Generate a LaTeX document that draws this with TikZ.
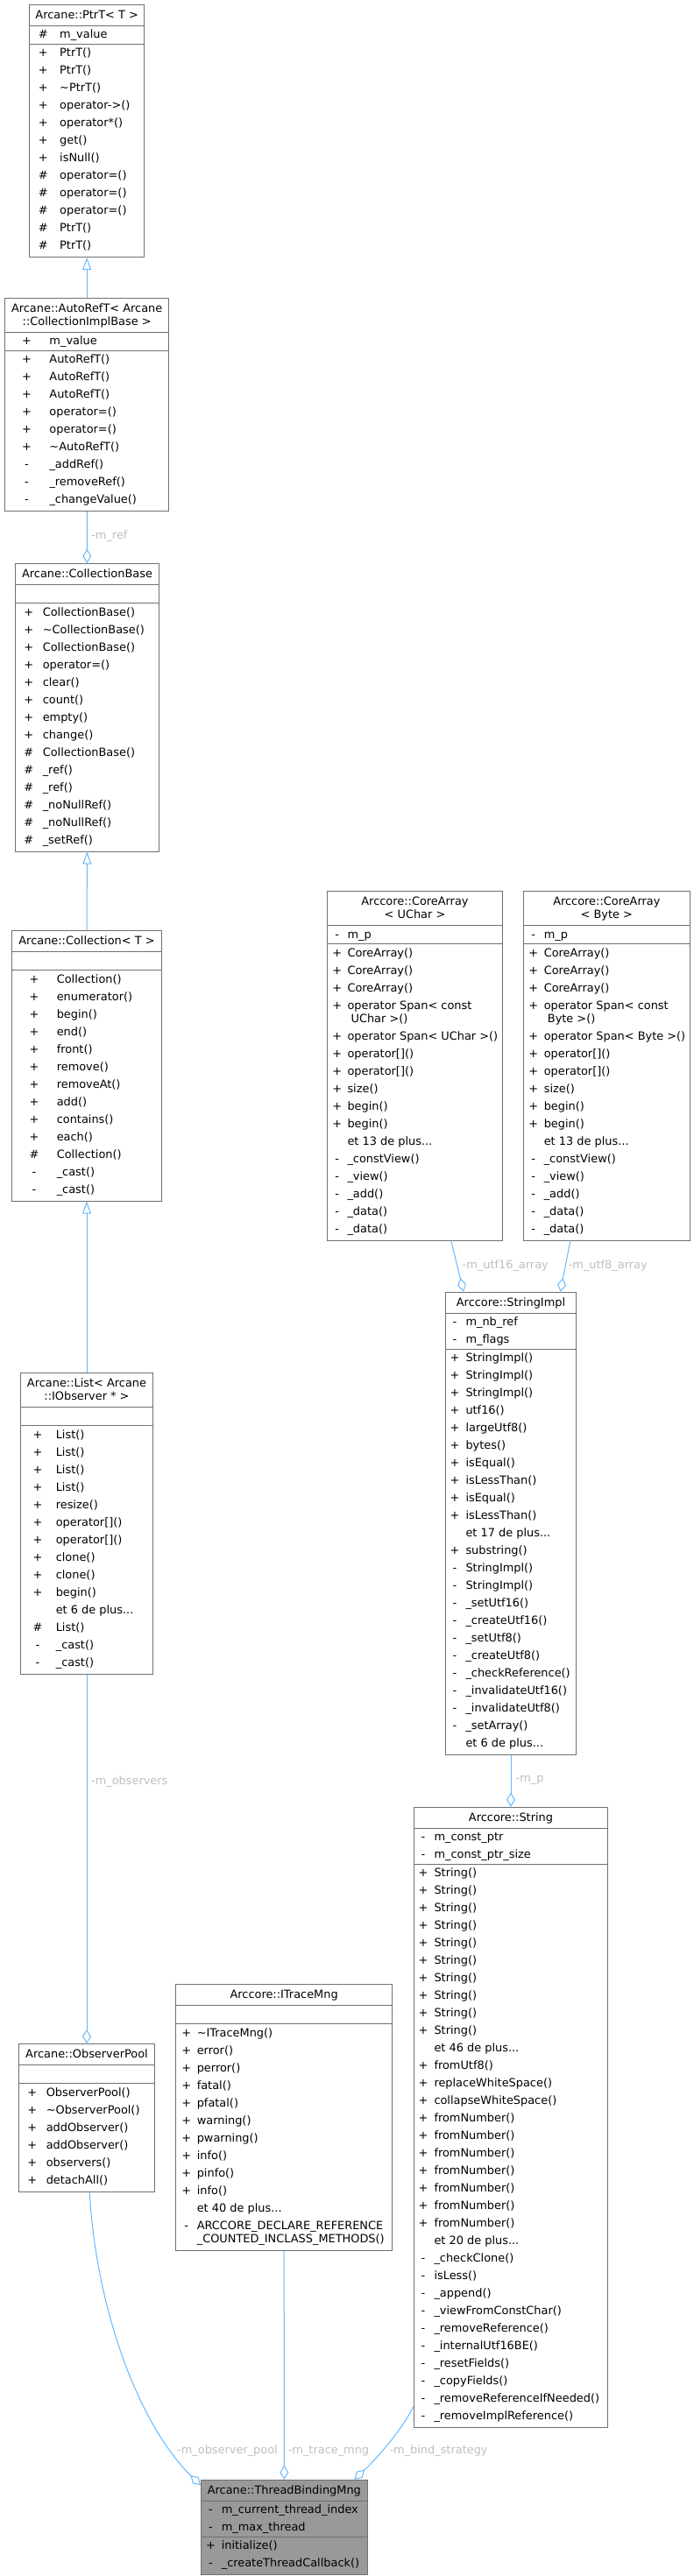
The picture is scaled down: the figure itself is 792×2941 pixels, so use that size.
\documentclass[tikz,border=0pt]{standalone}
\usepackage{fontspec}
\setmainfont{DejaVu Sans}
\usepackage{tikz}
\usetikzlibrary{shapes.multipart, arrows.meta, positioning}
\usepackage{color}

\definecolor{edgeblue}{HTML}{63B8FF}
\definecolor{lblgray}{HTML}{BEBEBE}
\definecolor{boxgray}{HTML}{707070}
\definecolor{tbmgray}{HTML}{999999}

\renewcommand{\arraystretch}{1.3333}
\newcommand{\dvs}{\fontsize{12.9}{15}\selectfont}
\newcommand{\symx}{12pt}
\newcommand{\namex}{12pt}
\newcommand{\mm}[2]{\hspace*{\symx}\makebox[0pt]{#1}\hspace*{\namex}#2}
\newcommand{\pub}[1]{\mm{+}{#1}}
\newcommand{\pro}[1]{\mm{\#}{#1}}
\newcommand{\pri}[1]{\mm{-}{#1}}
\newcommand{\etc}[1]{\mm{}{#1}}
\newcommand{\ttl}[1]{\dvs\begin{tabular}{@{}c@{}}\noalign{\vskip1.5pt}#1\\[1.5pt]\end{tabular}}
\newcommand{\nofld}{\dvs\begin{tabular}{@{}l@{}}\mbox{}\end{tabular}}
\newenvironment{flds}{\dvs\begin{tabular}{@{}l@{}}}{\end{tabular}}
\newenvironment{rows}{\dvs\begin{tabular}{@{}l@{}}}{\\[2.5pt]\end{tabular}}

\begin{document}
\begin{tikzpicture}[x=1pt, y=-1pt]
\useasboundingbox (0,0) rectangle (792,2941);

\begin{scope}[every node/.style={rectangle split, rectangle split parts=3,
    draw=boxgray, line width=1pt, fill=white, anchor=north west,
    inner xsep=0pt, inner ysep=0pt, rectangle split part align={center,left,left},
    font=\dvs},
    cols/.code 2 args={\gdef\symx{#1}\gdef\namex{#2}}]
    \node[minimum width=131.3pt, cols={15.8pt}{18.9pt}] (a) at (33,4.6)
        {\ttl{Arcane::PtrT< T >}
        \nodepart{two}\begin{flds}\pro{m\_value}\end{flds}
        \nodepart{three}\begin{rows}\pub{PtrT()}\\\pub{PtrT()}\\\pub{\textasciitilde PtrT()}\\
        \pub{operator->()}\\\pub{operator*()}\\\pub{get()}\\\pub{isNull()}\\
        \pro{operator=()}\\\pro{operator=()}\\\pro{operator=()}\\\pro{PtrT()}\\\pro{PtrT()}\end{rows}};
    \node[minimum width=187.3pt, cols={25pt}{26pt}] (b) at (5,339.6)
        {\ttl{Arcane::AutoRefT< Arcane\\[-5pt]::CollectionImplBase >}
        \nodepart{two}\begin{flds}\pub{m\_value}\end{flds}
        \nodepart{three}\begin{rows}\pub{AutoRefT()}\\\pub{AutoRefT()}\\\pub{AutoRefT()}\\
        \pub{operator=()}\\\pub{operator=()}\\\pub{\textasciitilde AutoRefT()}\\
        \pri{\_addRef()}\\\pri{\_removeRef()}\\\pri{\_changeValue()}\end{rows}};
    \node[minimum width=164pt, cols={15.3pt}{16pt}] (c) at (17,643)
        {\ttl{Arcane::CollectionBase}
        \nodepart{two}\nofld
        \nodepart{three}\begin{rows}\pub{CollectionBase()}\\\pub{\textasciitilde CollectionBase()}\\
        \pub{CollectionBase()}\\\pub{operator=()}\\\pub{clear()}\\\pub{count()}\\\pub{empty()}\\
        \pub{change()}\\\pro{CollectionBase()}\\\pro{\_ref()}\\\pro{\_ref()}\\
        \pro{\_noNullRef()}\\\pro{\_noNullRef()}\\\pro{\_setRef()}\end{rows}};
    \node[minimum width=171pt, cols={25.5pt}{25.8pt}] (d) at (13,1062)
        {\ttl{Arcane::Collection< T >}
        \nodepart{two}\nofld
        \nodepart{three}\begin{rows}\pub{Collection()}\\\pub{enumerator()}\\\pub{begin()}\\
        \pub{end()}\\\pub{front()}\\\pub{remove()}\\\pub{removeAt()}\\\pub{add()}\\
        \pub{contains()}\\\pub{each()}\\\pro{Collection()}\\\pri{\_cast()}\\\pri{\_cast()}\end{rows}};
    \node[minimum width=151pt, cols={19.5pt}{20.8pt}] (e) at (23,1567)
        {\ttl{Arcane::List< Arcane\\[-5pt]::IObserver * >}
        \nodepart{two}\nofld
        \nodepart{three}\begin{rows}\pub{List()}\\\pub{List()}\\\pub{List()}\\\pub{List()}\\
        \pub{resize()}\\\pub{operator[]()}\\\pub{operator[]()}\\\pub{clone()}\\\pub{clone()}\\
        \pub{begin()}\\\etc{et 6 de plus...}\\\pro{List()}\\\pri{\_cast()}\\\pri{\_cast()}\end{rows}};
    \node[minimum width=155pt, cols={15.2pt}{16.1pt}] (f) at (21,2333)
        {\ttl{Arcane::ObserverPool}
        \nodepart{two}\nofld
        \nodepart{three}\begin{rows}\pub{ObserverPool()}\\\pub{\textasciitilde ObserverPool()}\\
        \pub{addObserver()}\\\pub{addObserver()}\\\pub{observers()}\\\pub{detachAll()}\end{rows}};
    \node[minimum width=246.7pt, cols={12pt}{12pt}] (g) at (200.3,2265)
        {\ttl{Arccore::ITraceMng}
        \nodepart{two}\nofld
        \nodepart{three}\begin{rows}\pub{\textasciitilde ITraceMng()}\\\pub{error()}\\\pub{perror()}\\
        \pub{fatal()}\\\pub{pfatal()}\\\pub{warning()}\\\pub{pwarning()}\\\pub{info()}\\
        \pub{pinfo()}\\\pub{info()}\\\etc{et 40 de plus...}\\
        \pri{ARCCORE\_DECLARE\_REFERENCE}\\[-5pt]\etc{\_COUNTED\_INCLASS\_METHODS()}\end{rows}};
    \node[minimum width=200.6pt, cols={11.6pt}{11.7pt}] (h) at (372.7,1017)
        {\ttl{Arccore::CoreArray\\[-5pt]< UChar >}
        \nodepart{two}\begin{flds}\pri{m\_p}\end{flds}
        \nodepart{three}\begin{rows}\pub{CoreArray()}\\\pub{CoreArray()}\\\pub{CoreArray()}\\
        \pub{operator Span< const}\\[-5pt]\etc{\ UChar >()}\\\pub{operator Span< UChar >()}\\
        \pub{operator[]()}\\\pub{operator[]()}\\\pub{size()}\\\pub{begin()}\\\pub{begin()}\\
        \etc{et 13 de plus...}\\\pri{\_constView()}\\\pri{\_view()}\\\pri{\_add()}\\
        \pri{\_data()}\\\pri{\_data()}\end{rows}};
    \node[minimum width=189.7pt, cols={11.3pt}{12pt}] (i) at (597,1017)
        {\ttl{Arccore::CoreArray\\[-5pt]< Byte >}
        \nodepart{two}\begin{flds}\pri{m\_p}\end{flds}
        \nodepart{three}\begin{rows}\pub{CoreArray()}\\\pub{CoreArray()}\\\pub{CoreArray()}\\
        \pub{operator Span< const}\\[-5pt]\etc{\ Byte >()}\\\pub{operator Span< Byte >()}\\
        \pub{operator[]()}\\\pub{operator[]()}\\\pub{size()}\\\pub{begin()}\\\pub{begin()}\\
        \etc{et 13 de plus...}\\\pri{\_constView()}\\\pri{\_view()}\\\pri{\_add()}\\
        \pri{\_data()}\\\pri{\_data()}\end{rows}};
    \node[minimum width=149.6pt, cols={10.8pt}{12.5pt}] (j) at (507.7,1474.7)
        {\ttl{Arccore::StringImpl}
        \nodepart{two}\begin{flds}\pri{m\_nb\_ref}\\\pri{m\_flags}\end{flds}
        \nodepart{three}\begin{rows}\pub{StringImpl()}\\\pub{StringImpl()}\\\pub{StringImpl()}\\
        \pub{utf16()}\\\pub{largeUtf8()}\\\pub{bytes()}\\\pub{isEqual()}\\\pub{isLessThan()}\\
        \pub{isEqual()}\\\pub{isLessThan()}\\\etc{et 17 de plus...}\\\pub{substring()}\\
        \pri{StringImpl()}\\\pri{StringImpl()}\\\pri{\_setUtf16()}\\\pri{\_createUtf16()}\\
        \pri{\_setUtf8()}\\\pri{\_createUtf8()}\\\pri{\_checkReference()}\\
        \pri{\_invalidateUtf16()}\\\pri{\_invalidateUtf8()}\\\pri{\_setArray()}\\
        \etc{et 6 de plus...}\end{rows}};
    \node[minimum width=221.6pt, cols={10.8pt}{12.5pt}] (k) at (471.7,2062.7)
        {\ttl{Arccore::String}
        \nodepart{two}\begin{flds}\pri{m\_const\_ptr}\\\pri{m\_const\_ptr\_size}\end{flds}
        \nodepart{three}\begin{rows}\pub{String()}\\\pub{String()}\\\pub{String()}\\\pub{String()}\\
        \pub{String()}\\\pub{String()}\\\pub{String()}\\\pub{String()}\\\pub{String()}\\
        \pub{String()}\\\etc{et 46 de plus...}\\\pub{fromUtf8()}\\\pub{replaceWhiteSpace()}\\
        \pub{collapseWhiteSpace()}\\\pub{fromNumber()}\\\pub{fromNumber()}\\\pub{fromNumber()}\\
        \pub{fromNumber()}\\\pub{fromNumber()}\\\pub{fromNumber()}\\\pub{fromNumber()}\\
        \etc{et 20 de plus...}\\\pri{\_checkClone()}\\\pri{isLess()}\\\pri{\_append()}\\
        \pri{\_viewFromConstChar()}\\\pri{\_removeReference()}\\\pri{\_internalUtf16BE()}\\
        \pri{\_resetFields()}\\\pri{\_copyFields()}\\\pri{\_removeReferenceIfNeeded()}\\
        \pri{\_removeImplReference()}\end{rows}};
    \node[minimum width=189.7pt, cols={11pt}{12.3pt}, fill=tbmgray] (l) at (229,2830.7)
        {\ttl{Arcane::ThreadBindingMng}
        \nodepart{two}\begin{flds}\pri{m\_current\_thread\_index}\\\pri{m\_max\_thread}\end{flds}
        \nodepart{three}\begin{rows}\pub{initialize()}\\\pri{\_createThreadCallback()}\end{rows}};
\end{scope}

\begin{scope}[every edge/.style={draw=edgeblue, line width=1pt},
    link/.style={draw=edgeblue, line width=1pt},
    inh/.style={-{Triangle[open, length=14pt, width=10pt]}},
    agg/.style={-{Diamond[open, length=16pt, width=10pt]}},
    lbl/.style={text=lblgray, inner sep=0pt, font=\dvs}]
    \path (b) edge[inh] (a);
    \path (b) edge[agg] node[lbl, right=4.5pt, pos=.48] (m) {-m\_ref} (c);
    \path (d) edge[inh] (c);
    \path (e) edge[inh] (d);
    \path (e) edge[agg] node[lbl, right=4.6pt, pos=.29] (n) {-m\_observers} (f);
    \path ([xshift=41.3pt]h.south) edge[agg] node[lbl, right=5.4pt, pos=.49] (o) {-m\_utf16\_array} ([xshift=-54pt]j.north);
    \path ([xshift=-41.5pt]i.south) edge[agg] node[lbl, right=3pt, pos=.49] (p) {-m\_utf8\_array} ([xshift=56.5pt]j.north);
    \path (j) edge[agg] node[lbl, right=5.2pt, pos=.49] (q) {-m\_p} (k);
    \path (g) edge[agg] node[lbl, right=4pt, pos=.876] (r) {-m\_trace\_mng} (l);
    \draw[link, agg] ([xshift=3.2pt]f.south) .. controls (110,2640) and (160,2770) .. ([yshift=-6.6pt]l.north west);
    \draw[link, agg] ([yshift=24.7pt]k.south west) .. controls (460,2772) and (432,2805) .. ([xshift=80pt]l.north);
    \node[lbl, anchor=east] (s) at (317,2798.3) {-m\_observer\_pool};
    \node[lbl, anchor=west] (t) at (444.3,2798.3) {-m\_bind\_strategy};
\end{scope}
\end{tikzpicture}
\end{document}
